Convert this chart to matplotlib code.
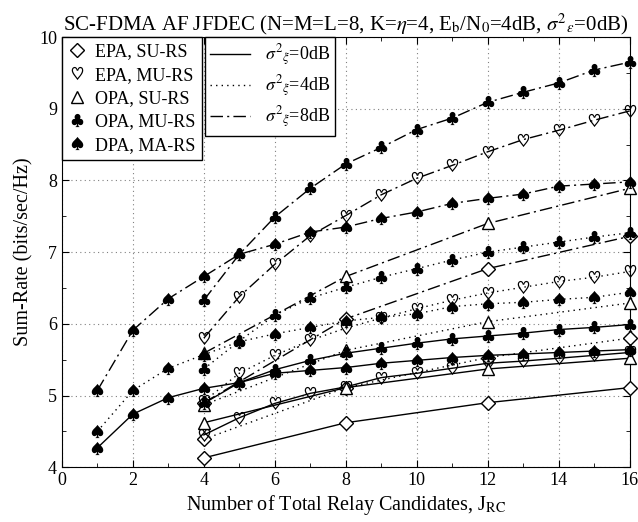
import numpy as np
import matplotlib
matplotlib.use('Agg')
import matplotlib.pyplot as plt
from matplotlib.lines import Line2D
from matplotlib.ticker import MultipleLocator

plt.rcParams['font.family'] = ['Liberation Serif', 'DejaVu Serif']
plt.rcParams['mathtext.fontset'] = 'stix'

# relay candidate counts
x_dpa = np.arange(1, 17)
x_mu = np.arange(4, 17)
x_su = [4, 8, 12, 16]

# EPA, SU-RS (diamond) for sigma_xi^2 = 0, 4, 8 dB
epa_su_0 = [4.13, 4.62, 4.90, 5.11]
epa_su_4 = [4.39, 5.11, 5.53, 5.80]
epa_su_8 = [4.90, 6.07, 6.77, 7.22]

# EPA, MU-RS (heart)
epa_mu_0 = [4.45, 4.69, 4.89, 5.03, 5.12, 5.25, 5.31, 5.38, 5.45, 5.48, 5.52, 5.56, 5.60]
epa_mu_4 = [4.92, 5.31, 5.56, 5.77, 5.94, 6.08, 6.21, 6.33, 6.43, 6.51, 6.59, 6.65, 6.73]
epa_mu_8 = [5.80, 6.38, 6.83, 7.23, 7.51, 7.80, 8.03, 8.21, 8.40, 8.57, 8.70, 8.84, 8.97]

# OPA, SU-RS (triangle)
opa_su_0 = [4.62, 5.11, 5.37, 5.52]
opa_su_4 = [4.87, 5.63, 6.03, 6.29]
opa_su_8 = [5.59, 6.66, 7.40, 7.89]

# OPA, MU-RS (club)
opa_mu_0 = [4.89, 5.18, 5.36, 5.49, 5.59, 5.66, 5.73, 5.79, 5.83, 5.87, 5.92, 5.95, 5.99]
opa_mu_4 = [5.37, 5.76, 6.12, 6.36, 6.51, 6.65, 6.77, 6.89, 7.00, 7.07, 7.14, 7.21, 7.27]
opa_mu_8 = [6.33, 6.97, 7.49, 7.89, 8.23, 8.46, 8.71, 8.87, 9.09, 9.23, 9.36, 9.54, 9.65]

# DPA, MA-RS (spade)
dpa_ma_0 = [4.27, 4.74, 4.97, 5.10, 5.18, 5.31, 5.35, 5.39, 5.45, 5.49, 5.53, 5.56, 5.58, 5.60, 5.62, 5.64]
dpa_ma_4 = [4.50, 5.07, 5.38, 5.57, 5.75, 5.86, 5.95, 6.04, 6.09, 6.14, 6.24, 6.28, 6.30, 6.34, 6.37, 6.44]
dpa_ma_8 = [5.07, 5.91, 6.35, 6.66, 6.97, 7.11, 7.28, 7.35, 7.47, 7.56, 7.68, 7.75, 7.81, 7.92, 7.95, 7.98]

scheme_labels = ['EPA, SU-RS', 'EPA, MU-RS', 'OPA, SU-RS', 'OPA, MU-RS', 'DPA, MA-RS']
sigma_labels = [r'${\sigma^2}_{\xi}$=0dB', r'${\sigma^2}_{\xi}$=4dB', r'${\sigma^2}_{\xi}$=8dB']

lstyles = ['-', (0, (1, 3)), (0, (9, 3, 1.5, 3))]
mk = [dict(marker='D', ms=7.5, mfc='white', mec='k', mew=1.0),
      dict(marker=r'$\heartsuit$', ms=9.5, mfc='k', mec='k', mew=0),
      dict(marker='^', ms=9, mfc='white', mec='k', mew=1.0),
      dict(marker=r'$\clubsuit$', ms=9.5, mfc='k', mec='k', mew=0),
      dict(marker=r'$\spadesuit$', ms=9.5, mfc='k', mec='k', mew=0)]

series = [(x_su, [epa_su_0, epa_su_4, epa_su_8]),
          (x_mu, [epa_mu_0, epa_mu_4, epa_mu_8]),
          (x_su, [opa_su_0, opa_su_4, opa_su_8]),
          (x_mu, [opa_mu_0, opa_mu_4, opa_mu_8]),
          (x_dpa, [dpa_ma_0, dpa_ma_4, dpa_ma_8])]

fig, ax = plt.subplots(figsize=(6.38, 5.22), dpi=100)
fig.subplots_adjust(left=0.097, right=0.987, top=0.929, bottom=0.105)

for i, (xs, ys) in enumerate(series):
    for j, y in enumerate(ys):
        ax.plot(xs, y, color='k', lw=1.0, ls=lstyles[j], **mk[i], clip_on=False, zorder=3)

ax.set_xlim(0, 16)
ax.set_ylim(4, 10)
ax.xaxis.set_major_locator(MultipleLocator(2))
ax.xaxis.set_minor_locator(MultipleLocator(1))
ax.yaxis.set_major_locator(MultipleLocator(1))
ax.yaxis.set_minor_locator(MultipleLocator(0.5))
ax.tick_params(which='both', direction='in', top=True, right=True, labelsize=13)
ax.tick_params(which='major', length=5)
ax.tick_params(which='minor', length=3)
ax.grid(True, which='major', ls=(0, (1, 3)), color='gray', lw=0.8)

ax.set_xlabel(r'Number of Total Relay Candidates, J$_{\mathrm{RC}}$', fontsize=14.5, labelpad=3)
ax.set_ylabel('Sum-Rate (bits/sec/Hz)', fontsize=14.5)
ax.set_title(r'SC-FDMA AF JFDEC (N=M=L=8, K=$\eta$=4, E$_{\mathrm{b}}$/N$_0$=4dB, ${\sigma^2}_{\epsilon}$=0dB)',
             fontsize=15, pad=5)

h1 = [Line2D([], [], ls='none', color='k', **m) for m in mk]
leg1 = ax.legend(h1, scheme_labels, loc='upper left', bbox_to_anchor=(0, 1), borderaxespad=0,
                 fancybox=False, edgecolor='k', framealpha=1, fontsize=13,
                 handlelength=1.0, handletextpad=0.5, labelspacing=0.35, borderpad=0.35)
leg1.get_frame().set_linewidth(1.0)
ax.add_artist(leg1)

h2 = [Line2D([], [], color='k', lw=1.0, ls=s) for s in lstyles]
leg2 = ax.legend(h2, sigma_labels, loc='upper left', bbox_to_anchor=(0.252, 1), borderaxespad=0,
                 fancybox=False, edgecolor='k', framealpha=1, fontsize=13,
                 handlelength=2.2, handletextpad=0.8, labelspacing=0.3, borderpad=0.3)
leg2.get_frame().set_linewidth(1.0)

fig.savefig('out.png')
